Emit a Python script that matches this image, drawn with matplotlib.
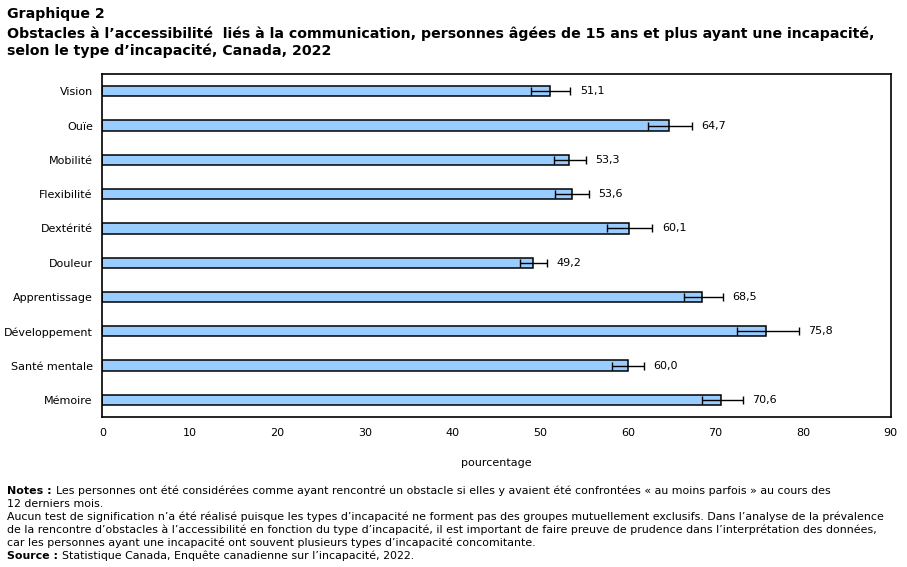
import matplotlib
matplotlib.use('Agg')
import matplotlib.pyplot as plt

# Obstacles à l'accessibilité liés à la communication, par type d'incapacité
categories = ['Vision', 'Ouïe', 'Mobilité', 'Flexibilité', 'Dextérité',
              'Douleur', 'Apprentissage', 'Développement', 'Santé mentale', 'Mémoire']
values = [51.1, 64.7, 53.3, 53.6, 60.1, 49.2, 68.5, 75.8, 60.0, 70.6]
ci_low = [48.9, 62.3, 51.5, 51.7, 57.6, 47.7, 66.4, 72.5, 58.2, 68.4]
ci_high = [53.4, 67.3, 55.2, 55.5, 62.8, 50.7, 70.8, 79.5, 61.8, 73.1]
xticks = [0, 10, 20, 30, 40, 50, 60, 70, 80, 90]

plt.rcParams['font.family'] = ['DejaVu Sans']

fig = plt.figure(figsize=(9.07, 5.67), dpi=100)
ax = fig.add_axes([0.113, 0.2646, 0.869, 0.6045])

ypos = list(range(len(categories)))
err = [[v - lo for v, lo in zip(values, ci_low)],
       [hi - v for v, hi in zip(values, ci_high)]]

ax.barh(ypos, values, height=0.3, color='#99CCFF', edgecolor='black', linewidth=1.1, zorder=2)
ax.errorbar(values, ypos, xerr=err, fmt='none', ecolor='black', elinewidth=1.0,
            capsize=3, capthick=1.0, zorder=3)

for y, v, hi in zip(ypos, values, ci_high):
    ax.annotate(f'{v:.1f}'.replace('.', ','), xy=(hi, y), xytext=(7, 0),
                textcoords='offset points', va='center', ha='left', fontsize=8)

ax.set_xlim(0, 90)
ax.set_ylim(len(categories) - 0.5, -0.5)
ax.set_xticks(xticks)
ax.set_yticks(ypos)
ax.set_yticklabels(categories)
ax.tick_params(axis='both', length=0, labelsize=8)
ax.tick_params(axis='x', pad=8)
ax.tick_params(axis='y', pad=7)
for s in ax.spines.values():
    s.set_linewidth(1.2)
ax.set_xlabel('pourcentage', fontsize=8, labelpad=14)

fig.text(0.008, 0.988, 'Graphique 2', fontsize=10.2, fontweight='bold', va='top')
fig.text(0.008, 0.954,
         'Obstacles à l\u2019accessibilité  liés à la communication, personnes âgées de 15 ans et plus ayant une incapacité,\n'
         'selon le type d\u2019incapacité, Canada, 2022',
         fontsize=10.2, fontweight='bold', va='top', linespacing=1.25)

note_size = 7.9
y0 = 0.143
dy = 0.0229
fig.text(0.008, y0, 'Notes :', fontsize=note_size, fontweight='bold', va='top')
fig.text(0.062, y0, 'Les personnes ont été considérées comme ayant rencontré un obstacle si elles y avaient été confrontées « au moins parfois » au cours des',
         fontsize=note_size, va='top')
notes = ['12 derniers mois.',
         'Aucun test de signification n\u2019a été réalisé puisque les types d\u2019incapacité ne forment pas des groupes mutuellement exclusifs. Dans l\u2019analyse de la prévalence',
         'de la rencontre d\u2019obstacles à l\u2019accessibilité en fonction du type d\u2019incapacité, il est important de faire preuve de prudence dans l\u2019interprétation des données,',
         'car les personnes ayant une incapacité ont souvent plusieurs types d\u2019incapacité concomitante.']
for i, line in enumerate(notes):
    fig.text(0.008, y0 - dy * (i + 1), line, fontsize=note_size, va='top')
fig.text(0.008, y0 - dy * 5, 'Source :', fontsize=note_size, fontweight='bold', va='top')
fig.text(0.068, y0 - dy * 5, 'Statistique Canada, Enquête canadienne sur l\u2019incapacité, 2022.',
         fontsize=note_size, va='top')

fig.savefig('out.png', dpi=100)
